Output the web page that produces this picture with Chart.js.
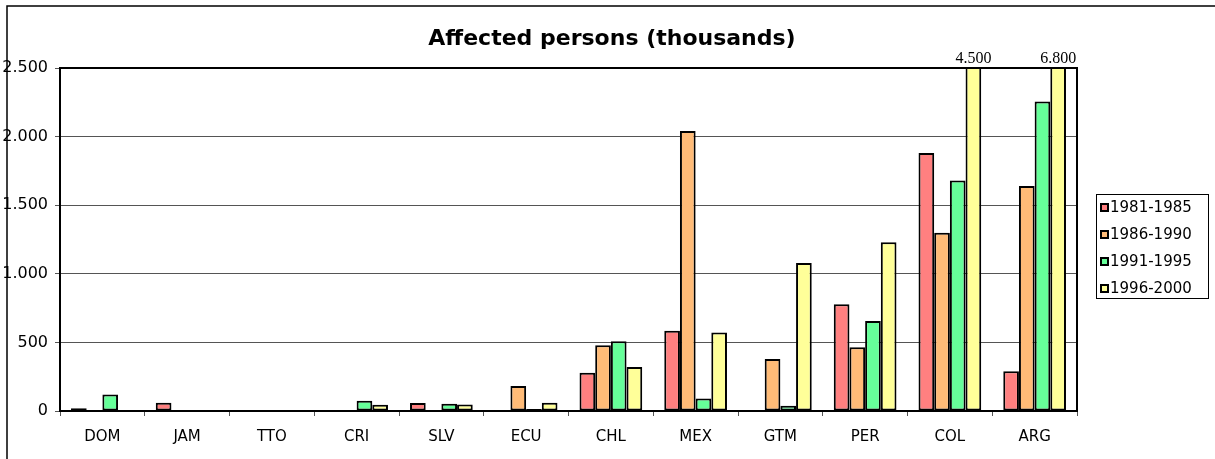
<!DOCTYPE html>
<html>
<head>
<meta charset="utf-8">
<script src="https://cdn.jsdelivr.net/npm/chart.js@4.4.1/dist/chart.umd.min.js"></script>
<style>
    body { margin: 0; background: #fff; }
    #wrap { width: 1215px; height: 459px; }
</style>
</head>
<body>
<div id="wrap"><canvas id="affectedChart" width="1215" height="459"></canvas></div>
<script>
// Data (thousands of persons)
const countries = ['DOM', 'JAM', 'TTO', 'CRI', 'SLV', 'ECU', 'CHL', 'MEX', 'GTM', 'PER', 'COL', 'ARG'];
const periods = ['1981-1985', '1986-1990', '1991-1995', '1996-2000'];
const p1981 = [20, 60, 2, 3, 58, 5, 279, 585, 0, 778, 1880, 290];
const p1986 = [3, 3, 2, 8, 5, 182, 479, 2040, 379, 464, 1300, 1640];
const p1991 = [120, 2, 2, 75, 52, 15, 508, 92, 39, 656, 1680, 2255];
const p1996 = [3, 3, 2, 45, 48, 60, 321, 573, 1079, 1230, 4500, 6800];
const yTicks = [0, 500, 1000, 1500, 2000, 2500];
const colors = ['#FF8080', '#FFBB77', '#66FF99', '#FFFF99'];

const FONT = '"DejaVu Sans", Verdana, sans-serif';
const fmt = v => String(v).replace(/\B(?=(\d{3})+(?!\d))/g, '.');

// Frame, title, legend and the over-range labels
const decorPlugin = {
    id: 'decor',
    beforeDraw(chart) {
        const ctx = chart.ctx;
        ctx.save();
        ctx.fillStyle = '#fff';
        ctx.fillRect(0, 0, chart.width, chart.height);
        ctx.strokeStyle = '#000';
        ctx.lineWidth = 1.5;
        ctx.beginPath();
        ctx.moveTo(7, chart.height + 5);
        ctx.lineTo(7, 6);
        ctx.lineTo(chart.width + 5, 6);
        ctx.stroke();
        ctx.restore();
    },
    afterDraw(chart) {
        const ctx = chart.ctx;
        const area = chart.chartArea;
        ctx.save();
        // top and right plot border
        ctx.strokeStyle = '#000';
        ctx.lineWidth = 2;
        ctx.beginPath();
        ctx.moveTo(area.left, area.top);
        ctx.lineTo(area.right, area.top);
        ctx.lineTo(area.right, area.bottom);
        ctx.stroke();

        // title
        ctx.fillStyle = '#000';
        ctx.font = 'bold 22px ' + FONT;
        ctx.textAlign = 'center';
        ctx.textBaseline = 'middle';
        ctx.fillText('Affected persons (thousands)', 612, 39);

        // labels for bars cut at the axis max
        const yMax = chart.scales.y.max;
        ctx.font = '16px "Liberation Serif", "Times New Roman", serif';
        ctx.textBaseline = 'alphabetic';
        chart.data.datasets.forEach((ds, di) => {
            const meta = chart.getDatasetMeta(di);
            ds.data.forEach((v, i) => {
                if (v > yMax) {
                    ctx.fillText(fmt(v), meta.data[i].x, area.top - 5);
                }
            });
        });

        // legend
        const lx = 1096, ly = 194, lw = 112, lh = 104;
        ctx.lineWidth = 1;
        ctx.strokeRect(lx + 0.5, ly + 0.5, lw, lh);
        ctx.font = '15px ' + FONT;
        ctx.textAlign = 'left';
        ctx.textBaseline = 'middle';
        periods.forEach((p, i) => {
            const cy = ly + 14 + i * 27;
            ctx.fillStyle = colors[i];
            ctx.fillRect(lx + 5, cy - 4, 7, 7);
            ctx.lineWidth = 2;
            ctx.strokeStyle = '#000';
            ctx.strokeRect(lx + 5, cy - 4, 7, 7);
            ctx.fillStyle = '#000';
            ctx.fillText(p, lx + 14, cy);
        });
        ctx.restore();
    }
};

const seriesValues = [p1981, p1986, p1991, p1996];

new Chart(document.getElementById('affectedChart'), {
    type: 'bar',
    data: {
        labels: countries,
        datasets: periods.map((p, i) => ({
            label: p,
            data: seriesValues[i],
            backgroundColor: colors[i],
            borderColor: '#000',
            borderWidth: 2,
            borderSkipped: false,
            categoryPercentage: 0.74,
            barPercentage: 1.0
        }))
    },
    options: {
        responsive: false,
        animation: false,
        layout: { padding: { left: 0, right: 138, top: 68, bottom: 0 } },
        plugins: {
            legend: { display: false },
            title: { display: false },
            tooltip: { enabled: false }
        },
        scales: {
            x: {
                offset: true,
                grid: { offset: true, drawOnChartArea: false, tickLength: 5, color: '#555' },
                border: { color: '#000', width: 2 },
                ticks: { color: '#000', font: { family: FONT, size: 15 }, padding: 12 },
                afterFit(scale) { scale.height = 48; }
            },
            y: {
                min: 0,
                max: 2500,
                afterBuildTicks(scale) { scale.ticks = yTicks.map(v => ({ value: v })); },
                grid: { color: '#555', lineWidth: 1, tickLength: 5 },
                border: { color: '#000', width: 2 },
                ticks: {
                    color: '#000',
                    font: { family: FONT, size: 16 },
                    padding: 7,
                    callback: v => fmt(v)
                },
                afterFit(scale) { scale.width = 60; }
            }
        }
    },
    plugins: [decorPlugin]
});
</script>
</body>
</html>
